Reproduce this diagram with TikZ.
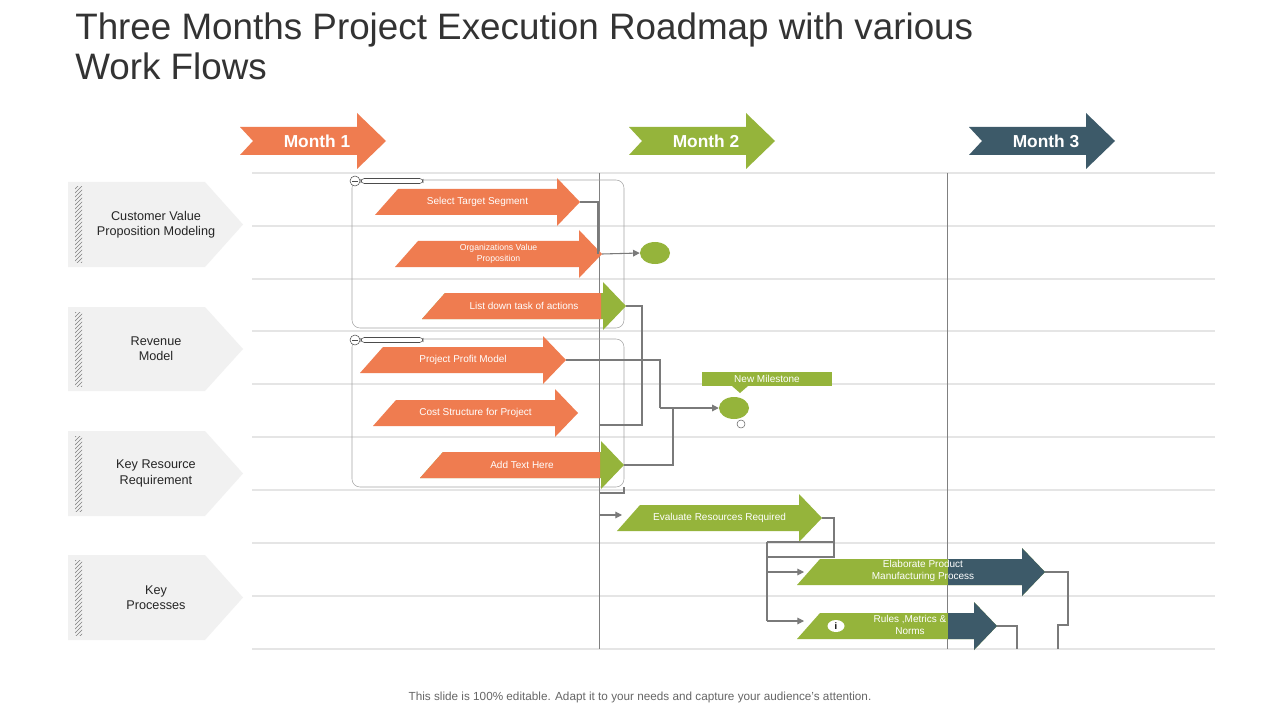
\documentclass[tikz,border=0pt]{standalone}
\usepackage{fontspec}
\setmainfont{Liberation Sans}
\usetikzlibrary{arrows.meta,patterns,shapes.geometric}
\definecolor{org}{HTML}{EF7C50}
\definecolor{grn}{HTML}{95B43B}
\definecolor{drk}{HTML}{3D5A69}
\definecolor{lgr}{HTML}{F1F1F1}
\definecolor{con}{HTML}{7A7A7A}
\newcommand\arrpath[3]{({#1},{#3+13}) -- ({#1+23},{#3-13}) -- ({#2-23},{#3-13}) -- ({#2-23},{#3-24}) -- ({#2},{#3}) -- ({#2-23},{#3+24}) -- ({#2-23},{#3+13}) -- cycle}
\newcommand\taskarrow[6]{% x0, tip, y, colour, name, text
  \fill[#4] \arrpath{#1}{#2}{#3};
  \node[tasktext] (#5) at ({(#1+#2)/2},{#3}) {#6};}
\newcommand\twoarrow[7]{% x0, tip, y, head colour, split, name, text
  \fill[#4] \arrpath{#1}{#2}{#3};
  \begin{scope}\clip (0,0) rectangle (#5,720);
  \fill[org] \arrpath{#1}{#2}{#3};\end{scope}
  \node[tasktext] (#6) at ({(#1+#2)/2},{#3}) {#7};}
\newcommand\montharr[4]{% x0, y, colour, text
  \fill[#3] ({#1},{#2-14}) -- ({#1+117},{#2-14}) -- ({#1+117},{#2-28}) -- ({#1+146},{#2}) -- ({#1+117},{#2+28}) -- ({#1+117},{#2+14}) -- ({#1},{#2+14}) -- ({#1+13},{#2}) -- cycle;
  \node[monthtext] at ({#1+77},{#2}) {#4};}
\newcommand\sidelabel[3]{% ytop, ybot, name/text
  \fill[lgr] (68,#1) -- (205,#1) -- (243,{(#1+#2)/2}) -- (205,#2) -- (68,#2) -- cycle;
  \fill[pattern=north east lines, pattern color=gray] (75,{#1+5}) rectangle (82,{#2-5});
  \node[labtext] (#3) at (156,{(#1+#2)/2}) {\csname lab#3\endcsname};}
\def\labA{Customer Value\\Proposition Modeling}
\def\labB{Revenue\\Model}
\def\labC{Key Resource\\Requirement}
\def\labD{Key\\Processes}
\tikzset{
  tasktext/.style={text=white,font=\fontsize{7.5}{8.5}\selectfont,align=center},
  monthtext/.style={text=white,font=\fontsize{13}{15}\selectfont\bfseries},
  labtext/.style={text=black!85,font=\fontsize{9.5}{11.5}\selectfont,align=center},
  conn/.style={draw=con,line width=0.8pt},
  carr/.style={conn,-{Triangle[length=5pt,width=5pt]}},
  grid/.style={draw=black!10,line width=0.8pt},
  mile/.style={fill=grn,ellipse,minimum width=0pt}
}
\begin{document}
\begin{tikzpicture}[x=0.75pt,y=-0.75pt]
\useasboundingbox (0,0) rectangle (1280,720);
\fill[white] (0,0) rectangle (1280,720);
\node[anchor=north west,text=black!80,font=\fontsize{27.6}{30}\selectfont,align=left,inner sep=0pt] (title) at (75,13) {Three Months Project Execution Roadmap with various\\Work Flows};
\node[text=black!60,font=\fontsize{8.8}{10}\selectfont] (foot) at (640,697) {This slide is 100\% editable. Adapt it to your needs and capture your audience's attention.};
% grid
\foreach \y in {173,226,279,331,384,437,490,543,596,649} \draw[grid] (252,\y) -- (1215,\y);
\draw[draw=black!50,line width=0.6pt] (599,173) -- (599,649);
\draw[draw=black!50,line width=0.6pt] (947,173) -- (947,649);
% months
\montharr{240}{141}{org}{Month 1}
\montharr{629}{141}{grn}{Month 2}
\montharr{969}{141}{drk}{Month 3}
% side labels
\sidelabel{182}{267}{A}
\sidelabel{307}{391}{B}
\sidelabel{431}{516}{C}
\sidelabel{555}{640}{D}
% group boxes
\draw[draw=black!35,rounded corners=6pt] (352,180) rectangle (624,328);
\draw[draw=black!35,rounded corners=6pt] (352,339) rectangle (624,487);
\foreach \y in {181,340}{
  \draw[black!70,fill=white] (355,\y) circle[radius=5];
  \draw[black!70] (352,\y) -- (358,\y);
  \draw[black!70,fill=white,rounded corners=2.5pt] (361,{\y-2.5}) rectangle (423,{\y+2.5});}
% tasks
\taskarrow{375}{580}{202}{org}{t1}{Select Target Segment}
\taskarrow{395}{602}{254}{org}{t2}{\fontsize{6.5}{7.5}\selectfont Organizations Value\\\fontsize{6.5}{7.5}\selectfont Proposition}
\twoarrow{422}{626}{306}{grn}{601}{t3}{List down task of actions}
\taskarrow{360}{566}{360}{org}{t4}{Project Profit Model}
\taskarrow{373}{578}{413}{org}{t5}{Cost Structure for Project}
\twoarrow{420}{624}{465}{grn}{600}{t6}{Add Text Here}
\taskarrow{617}{822}{518}{grn}{t7}{Evaluate Resources Required}
\fill[grn] \arrpath{797}{1045}{572};
\begin{scope}\clip (948,0) rectangle (1280,720);\fill[drk] \arrpath{797}{1045}{572};\end{scope}
\node[tasktext] (t8) at (923,571) {Elaborate Product\\Manufacturing Process};
\fill[grn] \arrpath{797}{997}{626};
\begin{scope}\clip (948,0) rectangle (1280,720);\fill[drk] \arrpath{797}{997}{626};\end{scope}
\node[tasktext] (t9) at (910,625) {Rules ,Metrics \&\\Norms};
\node[fill=white,ellipse,inner sep=0pt,minimum width=12.75pt,minimum height=9pt,font=\fontsize{7}{7}\selectfont\bfseries] (info) at (836,626) {i};
% milestones
\node[mile,minimum width=22.5pt,minimum height=16.5pt,inner sep=0pt] (m1) at (655,253) {};
\node[mile,minimum width=22.5pt,minimum height=16.5pt,inner sep=0pt] (m2) at (734,408) {};
\fill[grn] (702,372) rectangle (832,386);
\fill[grn] (732,386) -- (748,386) -- (740,393) -- cycle;
\node[text=white,font=\fontsize{7.5}{8}\selectfont] (nm) at (767,379) {New Milestone};
\draw[black!60,fill=white] (741,424) circle[radius=4];
% connectors
\coordinate (c1) at (598,254);
\draw[conn] (580,202) -- (598,202) -- (c1);
\draw[carr] (602,254) -- (m1.west);
\draw[conn] (626,306) -- (642,306) -- (642,425) -- (600,425);
\draw[conn] (566,360) -- (660,360) -- (660,408);
\draw[carr] (660,408) -- (m2.west);
\draw[conn] (624,465) -- (673,465) -- (673,408);
\draw[conn] (600,493) -- (624,493) -- (624,487);
\draw[carr] (600,515) -- (622,515);
\draw[conn] (822,518) -- (834,518) -- (834,557) -- (767,557) -- (767,621);
\draw[conn] (767,542) -- (834,542);
\draw[conn] (767,542) -- (767,557);
\draw[carr] (767,572) -- (804,572);
\draw[carr] (767,621) -- (804,621);
\draw[conn] (1045,572) -- (1068,572) -- (1068,625) -- (1058,625) -- (1058,649);
\draw[conn] (997,626) -- (1017,626) -- (1017,649);
\end{tikzpicture}
\end{document}
